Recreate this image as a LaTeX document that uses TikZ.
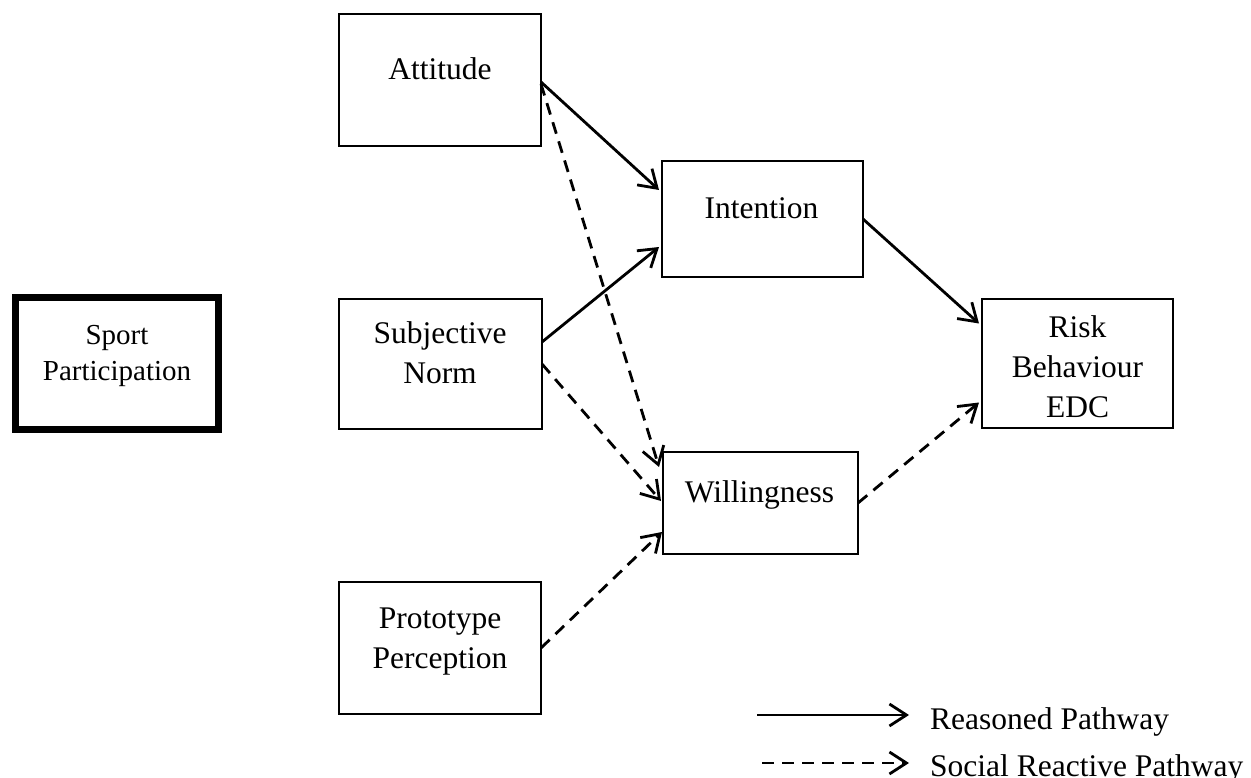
\documentclass[tikz,border=0pt]{standalone}
\usepackage{fontspec}
\setmainfont{Liberation Serif}
\usetikzlibrary{arrows.meta}
\begin{document}
\begin{tikzpicture}[x=1pt,y=-1pt,
  box/.style={draw,rectangle,line width=1.4pt,inner sep=0pt,outer sep=0pt},
  txt/.style={font=\fontsize{31.5}{39}\selectfont,inner sep=0pt,anchor=base},
  txts/.style={font=\fontsize{29}{36}\selectfont,inner sep=0pt,anchor=base},
  reason/.style={line width=2.8pt,-{Straight Barb[length=17pt,width=22pt]}},
  social/.style={reason,dash pattern=on 12pt off 8pt}]
\useasboundingbox (0,0) rectangle (1251,778);
% boxes
\node[box,minimum width=203pt,minimum height=132pt,line width=7pt] (sp) at (117,363.5) {};
\node[box,minimum width=202pt,minimum height=132pt] (att) at (440,80) {};
\node[box,minimum width=203pt,minimum height=130pt] (sn) at (440.5,364) {};
\node[box,minimum width=202pt,minimum height=132pt] (proto) at (440,648) {};
\node[box,minimum width=201pt,minimum height=116pt] (int) at (762.5,219) {};
\node[box,minimum width=195pt,minimum height=102pt] (will) at (760.5,503) {};
\node[box,minimum width=191pt,minimum height=129pt] (risk) at (1077.5,363.5) {};
% texts
\node[txts] (spA) at (117,344) {Sport};
\node[txts] (spB) at (117,380) {Participation};
\node[txt] (attT) at (440,80) {Attitude};
\node[txt] (snA) at (440,343) {Subjective};
\node[txt] (snB) at (440,383) {Norm};
\node[txt] (prA) at (440,628) {Prototype};
\node[txt] (prB) at (440,668) {Perception};
\node[txt] (intT) at (761.5,219) {Intention};
\node[txt] (willT) at (759.5,502) {Willingness};
\node[txt] (rkA) at (1077.5,337) {Risk};
\node[txt] (rkB) at (1077.5,377) {Behaviour};
\node[txt] (rkC) at (1077.5,417) {EDC};
% connectors
\draw[reason] ([yshift=-2pt]att.east) -- ([xshift=-3pt,yshift=29pt]int.west);
\draw[social] ([yshift=-4pt]att.east) -- ([xshift=-4pt,yshift=36pt]will.west);
\draw[reason] ([yshift=22pt]sn.east) -- ([xshift=-3pt,yshift=-28pt]int.west);
\draw[social] (sn.east) -- ([xshift=-2pt,yshift=2pt]will.west);
\draw[social] (proto.east) -- ([xshift=-1pt,yshift=-29pt]will.west);
\draw[reason] (int.east) -- ([xshift=-3pt,yshift=40pt]risk.west);
\draw[social] (will.east) -- ([xshift=-3pt,yshift=-39pt]risk.west);
% legend
\coordinate (l1a) at (757,715);
\coordinate (l1b) at (909,715);
\coordinate (l2a) at (762,763);
\coordinate (l2b) at (909,763);
\draw[reason] (l1a) -- (l1b);
\draw[social] (l2a) -- (l2b);
\node[txt,anchor=base west] (lg1) at (930,729) {Reasoned Pathway};
\node[txt,anchor=base west] (lg2) at (930,776) {Social Reactive Pathway};
\end{tikzpicture}
\end{document}
